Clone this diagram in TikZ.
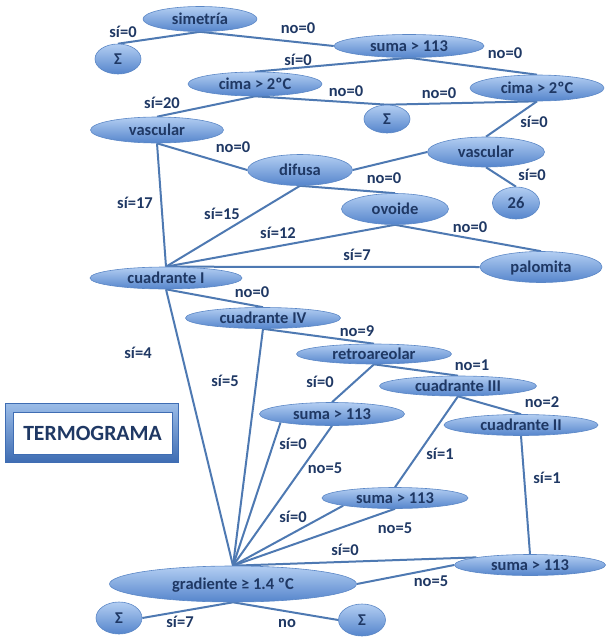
\documentclass[tikz,border=0pt]{standalone}
\usepackage{fontspec}
\setmainfont{Carlito}
\usepackage{tikz}
\usetikzlibrary{shapes.geometric}
\definecolor{ink}{HTML}{1F3864}
\definecolor{ellTop}{HTML}{B3CEF2}
\definecolor{ellBot}{HTML}{5585CC}
\definecolor{ellLine}{HTML}{5B87C6}
\definecolor{wire}{HTML}{4E79B2}
\definecolor{frameTop}{HTML}{9CBDE8}
\definecolor{frameBot}{HTML}{3F6DB3}
\pgfdeclarelayer{back}
\pgfsetlayers{back,main}
\tikzstyle{test} = [ellipse, draw=ellLine, line width=0.6pt, top color=ellTop, bottom color=ellBot, inner sep=0pt, text height=10pt, text depth=0pt, text=ink, font=\fontsize{16.5}{19}\selectfont\bfseries]
\tikzstyle{lab} = [inner sep=0pt, text height=10pt, text depth=0pt, text=ink, font=\fontsize{16.5}{19}\selectfont\bfseries]
\tikzstyle{br} = [-, draw=wire, line width=2pt]

\begin{document}
\begin{tikzpicture}[x=1pt, y=-1pt]
\useasboundingbox (0,0) rectangle (607,640);
% tests and leaves
\node [test, minimum width=114pt, minimum height=25pt] (sim) at (200,19) {simetría};
\node [test, minimum width=46pt, minimum height=30pt] (sigA) at (118,59) {Σ};
\node [test, minimum width=150pt, minimum height=23pt] (sumA) at (409,46) {suma > 113};
\node [test, minimum width=134pt, minimum height=24pt] (cimL) at (255,84) {cima > 2ºC};
\node [test, minimum width=134pt, minimum height=26pt] (cimR) at (537,88) {cima > 2ºC};
\node [test, minimum width=46pt, minimum height=28pt] (sigB) at (387,119) {Σ};
\node [test, minimum width=133pt, minimum height=26pt] (vasL) at (157,130) {vascular};
\node [test, minimum width=117pt, minimum height=30pt] (vasR) at (486,152) {vascular};
\node [test, minimum width=105pt, minimum height=31pt] (dif) at (300,170) {difusa};
\node [test, minimum width=47pt, minimum height=32pt] (n26) at (516,203) {26};
\node [test, minimum width=107pt, minimum height=31pt] (ovo) at (395,209) {ovoide};
\node [test, minimum width=122pt, minimum height=31pt] (pal) at (541,267) {palomita};
\node [test, minimum width=152pt, minimum height=22pt] (cI) at (166,278) {cuadrante I};
\node [test, minimum width=155pt, minimum height=21pt] (cIV) at (263,318) {cuadrante IV};
\node [test, minimum width=155pt, minimum height=20pt] (ret) at (374,354) {retroareolar};
\node [test, minimum width=157pt, minimum height=20pt] (cIII) at (458,386) {cuadrante III};
\node [test, minimum width=145pt, minimum height=23pt] (sumB) at (332,414) {suma > 113};
\node [test, minimum width=154pt, minimum height=21pt] (cII) at (521,425) {cuadrante II};
\node [test, minimum width=146pt, minimum height=21pt] (sumC) at (395,498) {suma > 113};
\node [test, minimum width=151pt, minimum height=21pt] (sumD) at (530,565) {suma > 113};
\node [test, minimum width=247pt, minimum height=36pt] (grad) at (233,584) {gradiente ≥ 1.4 ºC};
\node [test, minimum width=46pt, minimum height=32pt] (sigC) at (119,618) {Σ};
\node [test, minimum width=47pt, minimum height=32pt] (sigD) at (362,620) {Σ};
% title box
\shade [top color=frameTop, bottom color=frameBot, draw=frameBot, line width=0.6pt] (5,403) rectangle (178,462);
\node [draw=frameBot, line width=0.6pt, fill=white, minimum width=159pt, minimum height=42pt, inner sep=0pt, text=ink, font=\fontsize{21.7}{24}\selectfont\bfseries] (termo) at (92.5,433) {TERMOGRAMA};
% branch labels
\node [lab] (l1) at (123,32) {sí=0};
\node [lab] (l2) at (298,28) {no=0};
\node [lab] (l3) at (298,60) {sí=0};
\node [lab] (l4) at (505,53) {no=0};
\node [lab] (l5) at (162,103) {sí=20};
\node [lab] (l6) at (346,91) {no=0};
\node [lab] (l7) at (439,93) {no=0};
\node [lab] (l8) at (534,122) {sí=0};
\node [lab] (l9) at (233,147) {no=0};
\node [lab] (l10) at (384,178) {no=0};
\node [lab] (l11) at (532,175) {sí=0};
\node [lab] (l12) at (135,203) {sí=17};
\node [lab] (l13) at (222,214) {sí=15};
\node [lab] (l14) at (278,233) {sí=12};
\node [lab] (l15) at (470,227) {no=0};
\node [lab] (l16) at (357,255) {sí=7};
\node [lab] (l17) at (252,292) {no=0};
\node [lab] (l18) at (357,331) {no=9};
\node [lab] (l19) at (138,353) {sí=4};
\node [lab] (l20) at (225,381) {sí=5};
\node [lab] (l21) at (320,382) {sí=0};
\node [lab] (l22) at (472,365) {no=1};
\node [lab] (l23) at (542,402) {no=2};
\node [lab] (l24) at (293,444) {sí=0};
\node [lab] (l25) at (325,468) {no=5};
\node [lab] (l26) at (440,454) {sí=1};
\node [lab] (l27) at (547,478) {sí=1};
\node [lab] (l28) at (293,517) {sí=0};
\node [lab] (l29) at (395,528) {no=5};
\node [lab] (l30) at (345,550) {sí=0};
\node [lab] (l31) at (431,581) {no=5};
\node [lab] (l32) at (180,622) {sí=7};
\node [lab] (l33) at (287,622) {no};
% branches
\begin{pgfonlayer}{back}
\draw [br] (sim.south) to (sigA.north);
\draw [br] (sim.south) to (sumA.west);
\draw [br] (sumA.south) to (cimL.north);
\draw [br] (sumA.south) to (cimR.north);
\draw [br] (cimL.south) to (vasL.north);
\draw [br] (cimL.south) to (sigB.north);
\draw [br] (cimR.south) to (sigB.north);
\draw [br] (cimR.south) to (vasR.north);
\draw [br] (vasL.south) to (cI.north);
\draw [br] (vasL.south) to (dif.west);
\draw [br] (vasR.west) to (dif.east);
\draw [br] (vasR.south) to (n26.north);
\draw [br] (dif.south) to (cI.north);
\draw [br] (dif.south) to (ovo.north);
\draw [br] (ovo.south) to (cI.north);
\draw [br] (ovo.south) to (pal.north);
\draw [br] (pal.west) to (cI.north);
\draw [br] (cI.south) to (cIV.north);
\draw [br] (cI.south) to (grad.north);
\draw [br] (cIV.south) to (grad.north);
\draw [br] (cIV.south) to (ret.north);
\draw [br] (ret.south) to (sumB.north);
\draw [br] (ret.south) to (cIII.north);
\draw [br] (cIII.south) to (cII.north);
\draw [br] (cIII.south) to (sumC.north);
\draw [br] (cII.south) to (sumD.north);
\draw [br] (sumB.south west) to (grad.north);
\draw [br] (sumB.south) to (grad.north);
\draw [br] (sumC.south west) to (grad.north);
\draw [br] (sumC.south) to (grad.north);
\draw [br] (sumD.north west) to (grad.north);
\draw [br] (sumD.west) to (grad.east);
\draw [br] (grad.south) to (sigC.east);
\draw [br] (grad.south) to (sigD.west);
\end{pgfonlayer}
\end{tikzpicture}
\end{document}
